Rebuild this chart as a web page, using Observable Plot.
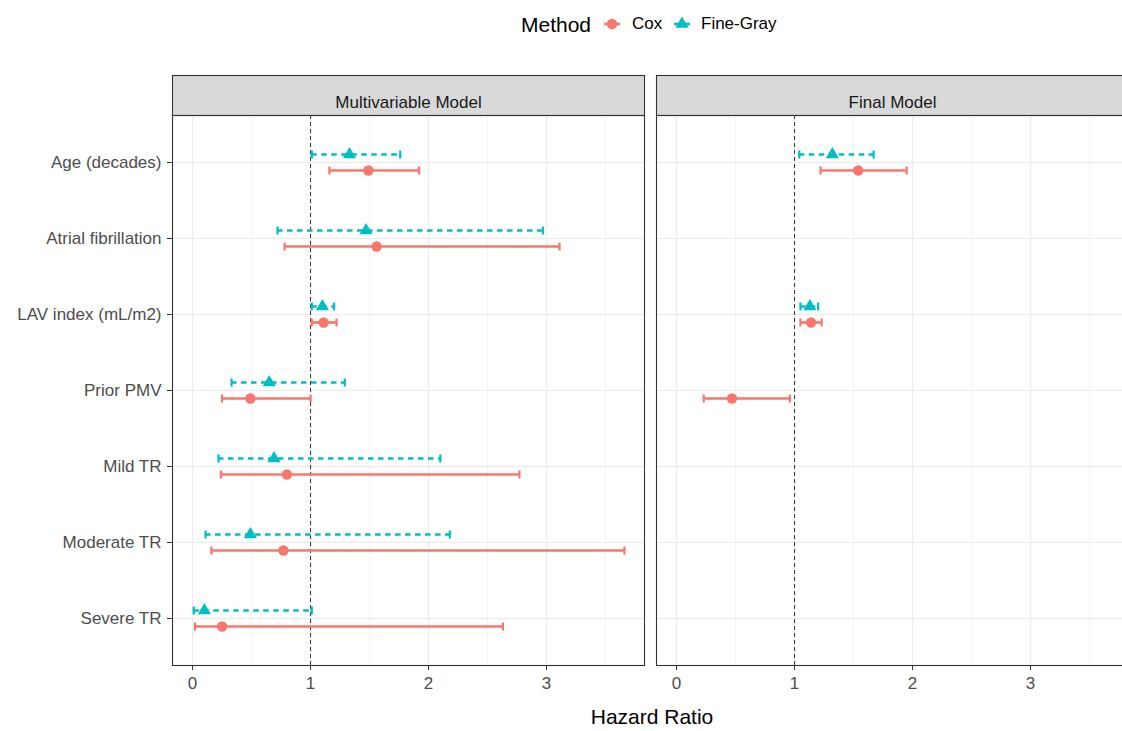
<!DOCTYPE html>
<html>
<head>
<meta charset="utf-8">
<script src="https://cdn.jsdelivr.net/npm/d3@7"></script>
<script src="https://cdn.jsdelivr.net/npm/@observablehq/plot@0.6"></script>
<style>
  html, body { margin: 0; padding: 0; background: #fff; overflow: hidden; width: 1122px; height: 731px; }
  body { font-family: "Liberation Sans", Arial, sans-serif; position: relative; }
  #legend { position: absolute; left: 0; top: 0; width: 1122px; height: 50px; }
  #legend span { position: absolute; line-height: 1; white-space: nowrap; }
  #legend svg { position: absolute; }
  #chart { position: absolute; left: 0; top: 50px; width: 1130px; }
  #chart svg { max-width: none !important; }
  #xtitle { position: absolute; left: 452px; width: 400px; top: 706px; text-align: center; font-size: 21px; line-height: 1; color: #000; }
</style>
</head>
<body>
<div id="legend"></div>
<div id="chart"></div>
<div id="xtitle">Hazard Ratio</div>
<script>
// ---- Data ----
const categories = ["Age (decades)", "Atrial fibrillation", "LAV index (mL/m2)", "Prior PMV", "Mild TR", "Moderate TR", "Severe TR"];
const panels = ["Multivariable Model", "Final Model"];
const methods = ["Cox", "Fine-Gray"];
const methodColors = ["#F8766D", "#00BFC4"];
const xTicks = [0, 1, 2, 3];
const xMinorTicks = [0.5, 1.5, 2.5, 3.5];

// Multivariable model
const multiVars = categories;
const multiCoxHR = [1.49, 1.56, 1.11, 0.49, 0.80, 0.77, 0.25];
const multiCoxLo = [1.16, 0.78, 1.01, 0.25, 0.24, 0.16, 0.02];
const multiCoxHi = [1.92, 3.11, 1.22, 1.00, 2.77, 3.66, 2.63];
const multiFGHR  = [1.33, 1.47, 1.10, 0.65, 0.69, 0.49, 0.10];
const multiFGLo  = [1.01, 0.72, 1.01, 0.33, 0.22, 0.11, 0.01];
const multiFGHi  = [1.76, 2.97, 1.20, 1.29, 2.10, 2.18, 1.01];

// Final model
const finalCoxVars = ["Age (decades)", "LAV index (mL/m2)", "Prior PMV"];
const finalCoxHR = [1.54, 1.14, 0.47];
const finalCoxLo = [1.22, 1.05, 0.23];
const finalCoxHi = [1.95, 1.23, 0.96];
const finalFGVars = ["Age (decades)", "LAV index (mL/m2)"];
const finalFGHR = [1.32, 1.13];
const finalFGLo = [1.04, 1.05];
const finalFGHi = [1.67, 1.20];

function rows(model, method, vars, hr, lo, hi) {
  return vars.map((v, i) => ({model, method, variable: v, hr: hr[i], lo: lo[i], hi: hi[i]}));
}
const data = [
  ...rows(panels[0], methods[0], multiVars, multiCoxHR, multiCoxLo, multiCoxHi),
  ...rows(panels[0], methods[1], multiVars, multiFGHR, multiFGLo, multiFGHi),
  ...rows(panels[1], methods[0], finalCoxVars, finalCoxHR, finalCoxLo, finalCoxHi),
  ...rows(panels[1], methods[1], finalFGVars, finalFGHR, finalFGLo, finalFGHi)
];

// ---- Styles ----
const seriesStyle = {
  "Cox":       {color: methodColors[0], dash: null,      dy: 8,  symbol: "circle",   r: 5.2},
  "Fine-Gray": {color: methodColors[1], dash: "5.5,4.5", dy: -8, symbol: "triangle", r: 4.9}
};
// vertical cap glyph for error-bar ends
const capSymbol = {draw(ctx) { ctx.moveTo(0, -4); ctx.lineTo(0, 4); }};

const seriesMarks = methods.flatMap(m => {
  const s = seriesStyle[m];
  const d = data.filter(r => r.method === m);
  return [
    Plot.ruleY(d, {fx: "model", y: "variable", x1: "lo", x2: "hi", stroke: s.color, strokeWidth: 2.7, strokeDasharray: s.dash, dy: s.dy}),
    Plot.dot(d, {fx: "model", y: "variable", x: "lo", symbol: capSymbol, r: 4, fill: "none", stroke: s.color, strokeWidth: 2.2, dy: s.dy}),
    Plot.dot(d, {fx: "model", y: "variable", x: "hi", symbol: capSymbol, r: 4, fill: "none", stroke: s.color, strokeWidth: 2.2, dy: s.dy}),
    Plot.dot(d, {fx: "model", y: "variable", x: "hr", symbol: s.symbol, r: s.r, fill: s.color, stroke: "none", dy: s.dy})
  ];
});

const chart = Plot.plot({
  width: 1130,
  height: 650,
  marginLeft: 171,
  marginRight: 1,
  marginTop: 65,
  marginBottom: 35,
  style: {fontFamily: "'Liberation Sans', Arial, sans-serif", background: "#fff", overflow: "visible", maxWidth: "none"},
  fx: {domain: panels, padding: 0.0245, axis: null, label: null},
  x: {domain: [-0.17, 3.83], label: null},
  y: {type: "point", domain: categories, padding: 0.6, label: null},
  marks: [
    // strip background
    Plot.frame({fill: "#D9D9D9", stroke: "#333333", strokeWidth: 1.1, insetTop: -40, insetBottom: 550}),
    Plot.text(panels, {fx: d => d, text: d => d, frameAnchor: "top", dy: -20, fontSize: 17, fill: "#1A1A1A"}),
    // grid
    Plot.gridX(xMinorTicks, {stroke: "#EBEBEB", strokeOpacity: 1, strokeWidth: 0.6}),
    Plot.gridX(xTicks, {stroke: "#EBEBEB", strokeOpacity: 1, strokeWidth: 1.2}),
    Plot.gridY(categories, {stroke: "#EBEBEB", strokeOpacity: 1, strokeWidth: 1.2}),
    // reference line
    Plot.ruleX([1], {stroke: "#333333", strokeWidth: 1, strokeDasharray: "4,3"}),
    ...seriesMarks,
    // panel border
    Plot.frame({stroke: "#333333", strokeWidth: 1.1}),
    // axes
    Plot.axisY(categories, {tickSize: 5, tickPadding: 6, fontSize: 17, color: "#4D4D4D", stroke: "#333333"}),
    Plot.axisX(xTicks, {tickSize: 5, tickPadding: 6, fontSize: 17, color: "#4D4D4D", stroke: "#333333", tickFormat: d3.format("d")})
  ]
});
document.getElementById("chart").appendChild(chart);

// ---- Legend ----
const legend = document.getElementById("legend");
function span(text, left, top, size, color) {
  const el = document.createElement("span");
  el.textContent = text;
  el.style.left = left + "px";
  el.style.top = top + "px";
  el.style.fontSize = size + "px";
  el.style.color = color;
  legend.appendChild(el);
}
span("Method", 521, 14, 21, "#000");
const ns = "http://www.w3.org/2000/svg";
function key(left, method) {
  const s = seriesStyle[method];
  const svg = document.createElementNS(ns, "svg");
  svg.setAttribute("width", 20); svg.setAttribute("height", 20);
  svg.style.left = left + "px"; svg.style.top = "13px";
  const line = document.createElementNS(ns, "line");
  line.setAttribute("x1", 2); line.setAttribute("x2", 18); line.setAttribute("y1", 11); line.setAttribute("y2", 11);
  line.setAttribute("stroke", s.color); line.setAttribute("stroke-width", 2.6);
  svg.appendChild(line);
  const path = document.createElementNS(ns, "path");
  const sym = s.symbol === "circle" ? d3.symbolCircle : d3.symbolTriangle;
  path.setAttribute("d", d3.symbol(sym, Math.PI * s.r * s.r)());
  path.setAttribute("transform", "translate(10,11)");
  path.setAttribute("fill", s.color);
  svg.appendChild(path);
  legend.appendChild(svg);
}
key(602, "Cox");
span("Cox", 632, 15, 17, "#000");
key(672, "Fine-Gray");
span("Fine-Gray", 701, 15, 17, "#000");
</script>
</body>
</html>
